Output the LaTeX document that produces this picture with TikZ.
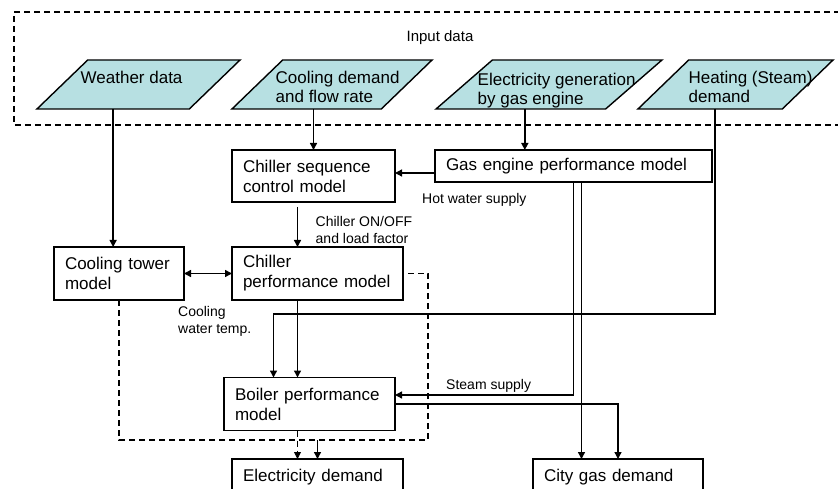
\documentclass[tikz,border=0pt]{standalone}
\usepackage{fontspec}
\setmainfont{Liberation Sans}
\usetikzlibrary{shapes.geometric,arrows.meta}
\definecolor{datacyan}{RGB}{183,224,226}

\begin{document}
\begin{tikzpicture}[x=1pt, y=-1pt, line width=1.4pt,
        >={Triangle[length=7pt,width=7pt]},
        model/.style = {draw, align=left, inner xsep=11pt, inner ysep=0pt,
            outer sep=0pt, font=\fontsize{17}{20}\selectfont},
        data/.style = {draw, fill=datacyan, trapezium, trapezium left angle=44,
            trapezium right angle=136, inner ysep=24.5pt, outer sep=0pt},
        datatext/.style = {anchor=north west, align=left, inner sep=0pt,
            font=\fontsize{17}{19}\selectfont},
        note/.style = {anchor=north west, align=left, inner sep=0pt,
            font=\fontsize{14}{17}\selectfont},
        loss/.style = {dash pattern=on 6pt off 4pt}]
    \useasboundingbox (0,0) rectangle (838,489);
    \clip (0,0) rectangle (838,489);

    % input data
    \draw[loss] (850,12) -- (14,12) -- (14,125) -- (850,125);
    \node[anchor=base, inner sep=0pt, font=\fontsize{15}{18}\selectfont] (inp) at (440,41.5) {Input data};

    \node[data, inner xsep=50.8pt] (wd) at (138.5,84.5) {};
    \node[data, inner xsep=49.3pt] (cd) at (332,84.5) {};
    \node[data, inner xsep=56.6pt, trapezium left angle=41,
        trapezium right angle=139] (eg) at (549,84.5) {};
    \node[data, inner xsep=46.8pt] (hd) at (735.5,84.5) {};
    \node[datatext] (wdt) at (80,70.8) {Weather data};
    \node[datatext] (cdt) at (275,70.2) {Cooling demand\\and flow rate};
    \node[datatext] (egt) at (477,72.5) {Electricity generation\\by gas engine};
    \node[datatext] (hdt) at (688,70.8) {Heating (Steam)\\demand};

    % models
    \node[model, text width=141pt, minimum height=52pt] (seq) at (313.5,176) {Chiller sequence\\control model};
    \node[model, text width=255pt, minimum height=32pt] (gas) at (573.5,166) {Gas engine performance model};
    \node[model, text width=108pt, minimum height=53pt] (tower) at (119,273.5) {Cooling tower\\model};
    \node[model, text width=149pt, minimum height=53pt] (chill) at (317.5,273.5) {Chiller\\performance model};
    \node[model, text width=149pt, minimum height=53pt] (boiler) at (309.5,404) {Boiler performance\\model};
    \node[model, text width=149pt, minimum height=36pt] (elec) at (317.5,477) {Electricity demand};
    \node[model, text width=148pt, minimum height=36pt] (city) at (618,477) {City gas demand};

    % labels
    \node[note] (hw) at (421.5,192.8) {Hot water supply};
    \node[note] (onoff) at (315,215.5) {Chiller ON/OFF\\and load factor};
    \node[note] (cwt) at (177.5,305.6) {Cooling\\water temp.};
    \node[note] (steam) at (445.5,379) {Steam supply};

    % flows
    \draw[->] (wd.bottom side) -- (wd.bottom side |- tower.north);
    \draw[->] (cd.bottom side -| seq.north) -- (seq.north);
    \draw[->] ([xshift=4pt]eg.bottom side) -- ([xshift=4pt]eg.bottom side |- gas.north);
    \draw[->] ([xshift=5pt]hd.bottom side) -- ++(0,205) -| ([xshift=-36pt]boiler.north);
    \draw[->] ([yshift=-7pt]gas.west) -- ([yshift=-7pt]gas.west -| seq.east);
    \draw[->, shorten <=5pt] ([xshift=-20pt]chill.north |- seq.south) -- ([xshift=-20pt]chill.north);
    \draw[<->] (tower.east) -- (tower.east -| chill.west);
    \draw[->] ([xshift=-20pt]chill.south) -- ([xshift=-20pt]chill.south |- boiler.north);
    \draw[->] (gas.south) |- ([yshift=9pt]boiler.east);
    \draw[->] ([xshift=8pt]gas.south) -- ([xshift=8pt]gas.south |- city.north);
    \draw[->] (boiler.east) -| (city.north);

    % electricity use
    \coordinate (lc) at (428,440);
    \draw[loss] (tower.south) |- (lc) |- (chill.east);
    \draw[->, loss, line width=0.8pt] ([xshift=-20pt]elec.north |- boiler.south) -- ([xshift=-20pt]elec.north);
    \draw[->] (elec.north |- lc) -- (elec.north);
\end{tikzpicture}
\end{document}
